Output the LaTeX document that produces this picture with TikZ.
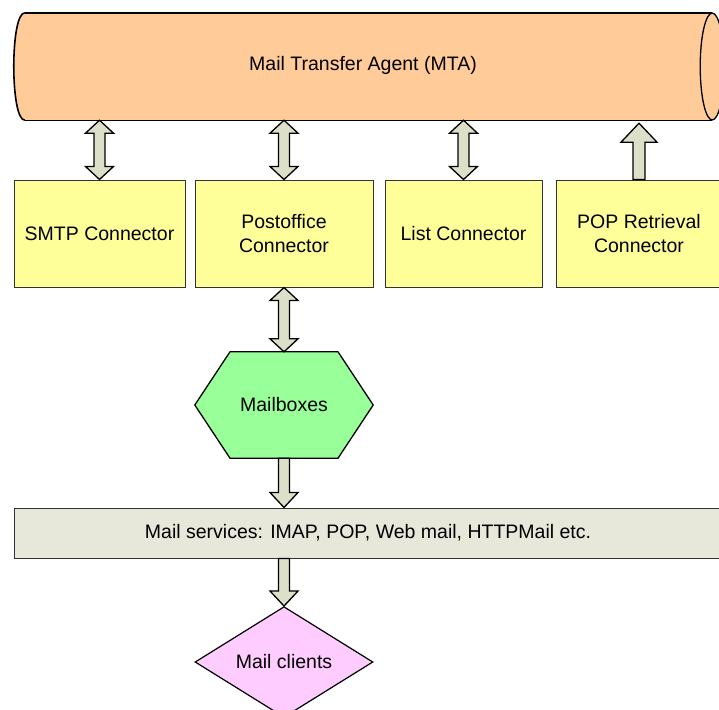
\documentclass[tikz,border=0pt]{standalone}
\usepackage{fontspec}
\setmainfont{Liberation Sans}
\usetikzlibrary{shapes.geometric,calc}
\definecolor{peach}{HTML}{FFCC99}
\definecolor{boxyellow}{HTML}{FFFF99}
\definecolor{mintgreen}{HTML}{99FF99}
\definecolor{pinkish}{HTML}{FFCCFF}
\definecolor{arrowfill}{HTML}{DDE0C9}
\definecolor{barfill}{HTML}{E7E7DA}
\definecolor{edgegray}{HTML}{333333}
\tikzset{
  lbl/.style={font=\fontsize{19.5}{24}\selectfont, align=center, inner sep=0pt},
  conbox/.style={lbl, draw=edgegray, line width=1pt, fill=boxyellow, minimum height=107pt},
  blockarr/.style={draw=black, line width=1.3pt, fill=arrowfill, line join=miter},
}
% double-headed block arrow from #1 (top tip) to #2 (bottom tip)
\newcommand\dblblock[2]{%
  \draw[blockarr] let \p1=(#1), \p2=(#2) in
    (\x1,\y1) -- (\x1+14pt,\y1-13pt) -- (\x1+5.5pt,\y1-13pt) -- (\x1+5.5pt,\y2+13pt)
    -- (\x1+14pt,\y2+13pt) -- (\x1,\y2) -- (\x1-14pt,\y2+13pt) -- (\x1-5.5pt,\y2+13pt)
    -- (\x1-5.5pt,\y1-13pt) -- (\x1-14pt,\y1-13pt) -- cycle;}
% single block arrow pointing down: tail #1, tip #2
\newcommand\downblock[2]{%
  \draw[blockarr] let \p1=(#1), \p2=(#2) in
    (\x1-5.5pt,\y1) -- (\x1+5.5pt,\y1) -- (\x1+5.5pt,\y2+15pt) -- (\x1+14pt,\y2+15pt)
    -- (\x1,\y2) -- (\x1-14pt,\y2+15pt) -- (\x1-5.5pt,\y2+15pt) -- cycle;}
% single block arrow pointing up: tip #1, tail #2
\newcommand\upblock[2]{%
  \draw[blockarr] let \p1=(#1), \p2=(#2) in
    (\x1,\y1) -- (\x1+18pt,\y1-19pt) -- (\x1+6pt,\y1-19pt) -- (\x1+6pt,\y2)
    -- (\x1-6pt,\y2) -- (\x1-6pt,\y1-19pt) -- (\x1-18pt,\y1-19pt) -- cycle;}
\begin{document}
\begin{tikzpicture}[x=1pt,y=-1pt]
\useasboundingbox[fill=white] (0,0) rectangle (719,709);

% MTA cylinder
\node[lbl, minimum width=687pt, minimum height=107pt] (mta) at (368.5,66.5) {};
\fill[peach] (mta.north east) -- (mta.north west)
  .. controls +(-14.7,0) and +(-14.7,0) .. (mta.south west) -- (mta.south east) -- cycle;
\fill[peach] (mta.east) ellipse [x radius=12, y radius=53.5];
\draw[line width=2pt] (mta.north west) -- (mta.north east);
\draw[line width=1.3pt] (mta.south west) -- (mta.south east);
\draw[line width=1.6pt] (mta.north west)
  .. controls +(-14.7,0) and +(-14.7,0) .. (mta.south west);
\draw[line width=1.3pt] (mta.east) ellipse [x radius=12, y radius=53.5];
\node[lbl] at (363,65) {Mail Transfer Agent (MTA)};

% connectors
\node[conbox, minimum width=171pt] (smtp) at (99.5,233.5) {SMTP Connector};
\node[conbox, minimum width=178pt] (post) at (284,233.5) {Postoffice\\Connector};
\node[conbox, minimum width=157pt] (list) at (463.5,233.5) {List Connector};
\node[conbox, minimum width=166pt] (pop) at (639,233.5) {POP Retrieval\\Connector};

% mailboxes hexagon
\node[lbl, minimum width=178pt, minimum height=106pt] (mbx) at (284,405) {};
\draw[line width=1.3pt, fill=mintgreen]
  ([xshift=-54pt]mbx.north) -- ([xshift=54pt]mbx.north) -- (mbx.east)
  -- ([xshift=54pt]mbx.south) -- ([xshift=-54pt]mbx.south) -- (mbx.west) -- cycle;
\node[lbl] at (mbx.center) {Mailboxes};

% mail services bar
\node[lbl, draw=edgegray, line width=1pt, fill=barfill, minimum width=716pt, minimum height=50pt] (svc) at (372,533) {};
\node[lbl] at (368,533) {Mail services: IMAP, POP, Web mail, HTTPMail etc.};

% mail clients diamond
\node[lbl, diamond, draw=black, line width=1.2pt, fill=pinkish, minimum width=178pt, minimum height=104pt] (cli) at (284,662) {Mail clients};

% block arrows
\dblblock{mta.south -| smtp.north}{smtp.north}
\dblblock{mta.south -| post.north}{post.north}
\dblblock{mta.south -| list.north}{list.north}
\upblock{$(mta.south -| pop.north)+(0,3)$}{pop.north}
\dblblock{post.south}{mbx.north}
\downblock{mbx.south}{svc.north -| mbx.south}
\downblock{svc.south -| cli.north}{cli.north}
\end{tikzpicture}
\end{document}
